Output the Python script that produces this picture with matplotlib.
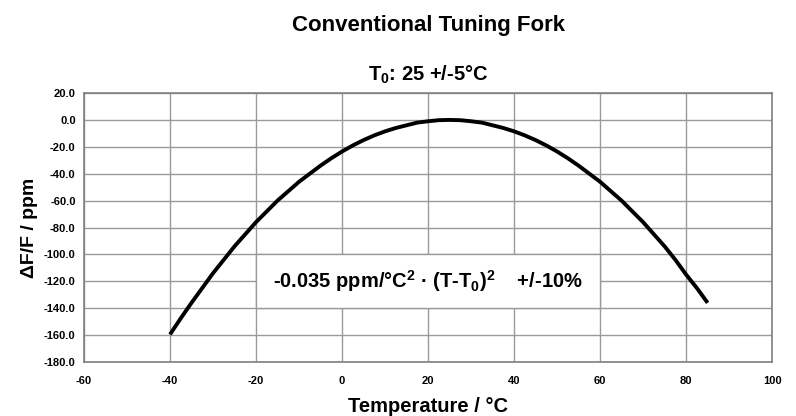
import matplotlib
matplotlib.use("Agg")
import matplotlib.pyplot as plt
from matplotlib.patches import Rectangle

plt.rcParams['font.family'] = ['Liberation Sans', 'DejaVu Sans']
plt.rcParams['mathtext.fontset'] = 'custom'
plt.rcParams['mathtext.rm'] = 'Liberation Sans'
plt.rcParams['mathtext.bf'] = 'Liberation Sans:bold'

# values
temps = [-40, -37.5, -35, -32.5, -30, -27.5, -25, -22.5, -20, -17.5, -15,
         -12.5, -10, -7.5, -5, -2.5, 0, 2.5, 5, 7.5, 10, 12.5, 15, 17.5, 20,
         22.5, 25, 27.5, 30, 32.5, 35, 37.5, 40, 42.5, 45, 47.5, 50, 52.5,
         55, 57.5, 60, 62.5, 65, 67.5, 70, 72.5, 75, 77.5, 80, 82.5, 85]
ppm = [-159.5, -147.5, -136, -125, -114, -104, -94, -85, -76, -68, -60,
       -53, -46, -40, -34, -28.5, -23.5, -19, -15, -11.5, -8.5, -6, -4, -2, -1,
       -0.2, 0, -0.2, -1, -2, -4, -6, -8.5, -11.5, -15, -19, -23.5, -28.5,
       -34, -40, -46, -53, -60, -68, -76, -85, -94, -104, -115, -125, -136]

x_ticks = [-60, -40, -20, 0, 20, 40, 60, 80, 100]
y_ticks = [20, 0, -20, -40, -60, -80, -100, -120, -140, -160, -180]

fig = plt.figure(figsize=(7.96, 4.16), dpi=100)
ax = fig.add_axes([0.1055, 0.1298, 0.8645, 0.6466])

ax.plot(temps, ppm, color='black', lw=2.8, solid_capstyle='butt',
        solid_joinstyle='round', zorder=4)

ax.set_xlim(-60, 100)
ax.set_ylim(-180, 20)
ax.set_xticks(x_ticks)
ax.set_yticks(y_ticks)
ax.set_xticklabels([str(t) for t in x_ticks], fontsize=8, fontweight='bold')
ax.set_yticklabels(['{:.1f}'.format(t) for t in y_ticks], fontsize=8, fontweight='bold')
ax.tick_params(axis='x', length=0, pad=10)
ax.tick_params(axis='y', length=0, pad=6)
ax.grid(True, color='#9a9a9a', lw=1.0, zorder=1)
ax.set_axisbelow(True)
for s in ax.spines.values():
    s.set_color('#808080')
    s.set_linewidth(1.2)

# white box with the formula
ax.add_patch(Rectangle((-20, -140), 80, 40, facecolor='white',
                       edgecolor='#9a9a9a', lw=1.0, zorder=2))
ax.text(20, -120, r'-0.035 ppm/°C$^\mathbf{2}$ · (T-T$_\mathbf{0}$)$^\mathbf{2}$    +/-10%',
        ha='center', va='center', fontsize=14.5, fontweight='bold', zorder=3)

ax.set_xlabel('Temperature / °C', fontsize=14.5, fontweight='bold', labelpad=8)
ax.set_ylabel('ΔF/F / ppm', fontsize=14, fontweight='bold', labelpad=4)
ax.set_title(r'T$_\mathbf{0}$: 25 +/-5°C', fontsize=14.5, fontweight='bold', pad=9)
fig.text(0.538, 0.938, 'Conventional Tuning Fork', ha='center', va='center',
         fontsize=16, fontweight='bold')

fig.savefig('out.png', dpi=100)
